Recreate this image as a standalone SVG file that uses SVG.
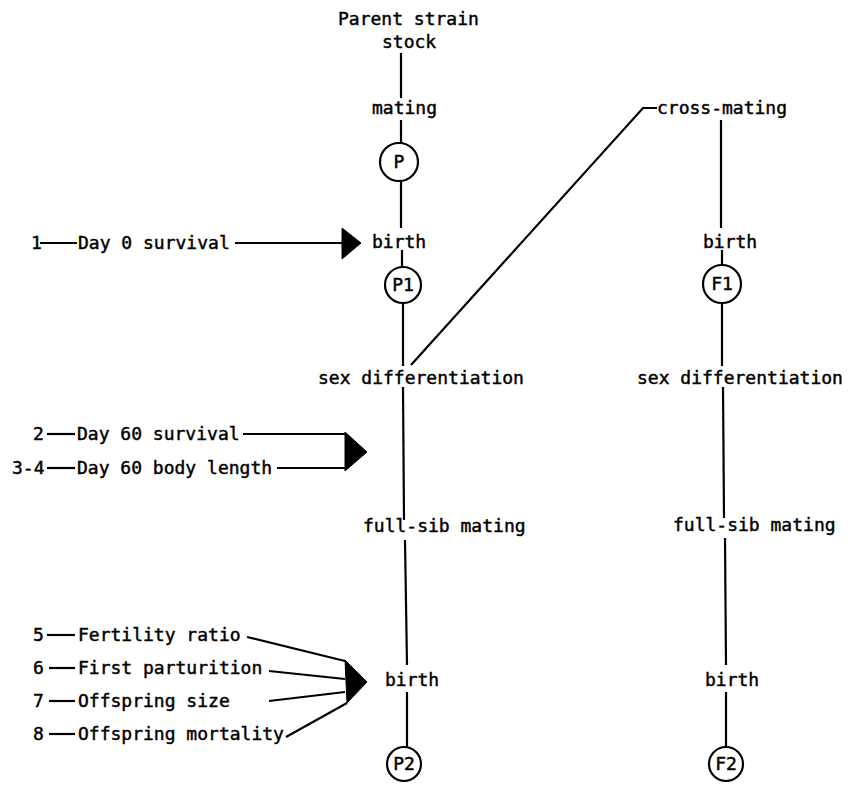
<svg xmlns="http://www.w3.org/2000/svg" width="848" height="785" viewBox="0 0 848 785">
<style>
text{font-family:"DejaVu Sans Mono","Liberation Mono",monospace;font-size:18px;fill:#000;stroke:#000;stroke-width:0.45}
.c{text-anchor:middle}
line,polyline{stroke:#000;stroke-width:2.2;fill:none}
circle{stroke:#000;stroke-width:2.2;fill:#fff}
.ah{fill:#000;stroke:#000;stroke-width:1}
</style>
<rect width="848" height="785" fill="#fff"/>
<g id="connectors">
<line x1="401" y1="53" x2="401" y2="98"/>
<line x1="401" y1="120" x2="401" y2="143"/>
<line x1="401" y1="181" x2="401" y2="228"/>
<line x1="402" y1="250" x2="402" y2="267"/>
<line x1="403" y1="303" x2="403" y2="366"/>
<line x1="403" y1="387" x2="404" y2="520"/>
<line x1="405" y1="540" x2="407" y2="665"/>
<line x1="407" y1="692" x2="407" y2="747"/>
<polyline points="411,365 643,108 657,108"/>
<line x1="721" y1="120" x2="721" y2="228"/>
<line x1="722" y1="250" x2="722" y2="265"/>
<line x1="722" y1="303" x2="722" y2="366"/>
<line x1="723" y1="387" x2="724" y2="518"/>
<line x1="725" y1="538" x2="726" y2="665"/>
<line x1="726" y1="692" x2="726" y2="747"/>
<line x1="40" y1="243" x2="77" y2="243"/>
<line x1="235" y1="243" x2="343" y2="243"/>
<polygon class="ah" points="342,228 342,259 361,243"/>
<line x1="47" y1="434" x2="75" y2="434"/>
<line x1="47" y1="468" x2="75" y2="468"/>
<line x1="243" y1="434" x2="346" y2="434"/>
<line x1="277" y1="468" x2="346" y2="468"/>
<polygon class="ah" points="345,432 345,471 367,452"/>
<line x1="47" y1="635" x2="75" y2="635"/>
<line x1="49" y1="668" x2="75" y2="668"/>
<line x1="49" y1="701" x2="75" y2="701"/>
<line x1="49" y1="734" x2="75" y2="734"/>
<line x1="247" y1="637" x2="345" y2="661"/>
<line x1="269" y1="671" x2="345" y2="679"/>
<line x1="269" y1="701" x2="345" y2="692"/>
<line x1="286" y1="737" x2="347" y2="703"/>
<polygon class="ah" points="345,660 347,703 367,682"/>
</g>
<g id="parent"><text x="338" y="25">Parent strain</text><text x="382" y="48">stock</text></g>
<g id="mating"><text x="372" y="114">mating</text></g>
<g id="P"><circle cx="399" cy="162" r="19"/><text class="c" x="399" y="168">P</text></g>
<g id="birth1"><text x="372" y="248">birth</text></g>
<g id="P1"><circle cx="403" cy="285" r="18"/><text class="c" x="403" y="291">P1</text></g>
<g id="sexdiff1"><text x="318" y="384">sex differentiation</text></g>
<g id="fullsib1"><text x="363" y="532">full-sib mating</text></g>
<g id="birth2"><text x="385" y="686">birth</text></g>
<g id="P2"><circle cx="404" cy="764" r="17"/><text class="c" x="404" y="770">P2</text></g>
<g id="crossmating"><text x="657" y="114">cross-mating</text></g>
<g id="birthF1"><text x="703" y="248">birth</text></g>
<g id="F1"><circle cx="722" cy="284" r="19"/><text class="c" x="722" y="290">F1</text></g>
<g id="sexdiff2"><text x="637" y="384">sex differentiation</text></g>
<g id="fullsib2"><text x="673" y="531">full-sib mating</text></g>
<g id="birthF2"><text x="705" y="686">birth</text></g>
<g id="F2"><circle cx="726" cy="764" r="17"/><text class="c" x="726" y="770">F2</text></g>
<g id="m1"><text x="31" y="249">1</text><text x="78" y="249">Day 0 survival</text></g>
<g id="m2"><text x="33" y="440">2</text><text x="77" y="440">Day 60 survival</text></g>
<g id="m34"><text x="12" y="474">3-4</text><text x="77" y="474">Day 60 body length</text></g>
<g id="m5"><text x="33" y="641">5</text><text x="78" y="641">Fertility ratio</text></g>
<g id="m6"><text x="33" y="674">6</text><text x="78" y="674">First parturition</text></g>
<g id="m7"><text x="33" y="707">7</text><text x="78" y="707">Offspring size</text></g>
<g id="m8"><text x="33" y="740">8</text><text x="78" y="740">Offspring mortality</text></g>
</svg>
